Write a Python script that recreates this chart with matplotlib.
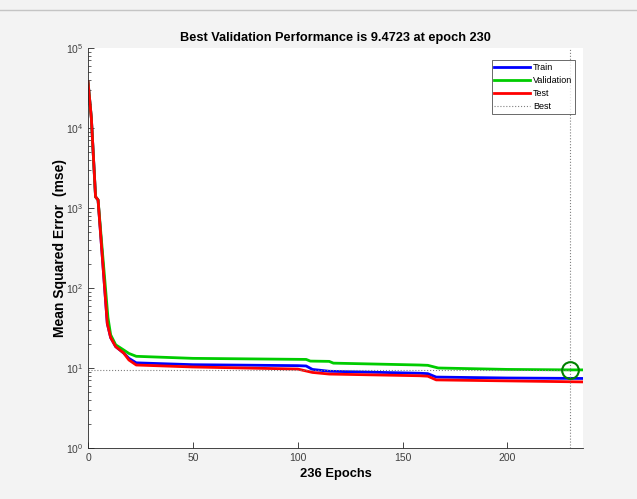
import matplotlib
matplotlib.use("Agg")
import matplotlib.pyplot as plt
from matplotlib.lines import Line2D

plt.rcParams['font.family'] = ['Liberation Sans', 'DejaVu Sans']

# performance per epoch (at the visible breakpoints)
train_ep = [0, 1.6, 3.6, 4.8, 9.2, 10.8, 13.2, 17, 19.5, 23, 50, 100, 104, 107, 115, 158, 162, 166, 200, 236]
train_mse = [38000, 13300, 1380, 1260, 36, 24, 18.5, 15.4, 13.2, 11.6, 11.0, 10.7, 10.6, 9.6, 9.1, 8.6, 8.5, 7.7, 7.5, 7.4]

val_ep = [0, 1.6, 3.6, 4.8, 9.5, 10.8, 13.2, 17, 19.5, 23, 50, 104, 106, 115, 117, 158, 162, 167, 200, 230, 236]
val_mse = [38000, 13300, 1380, 1260, 43, 26, 19.5, 16.8, 15.2, 14.0, 13.2, 12.8, 12.2, 12.1, 11.5, 10.9, 10.8, 10.0, 9.6, 9.4723, 9.47]

test_ep = [0, 1.6, 3.6, 4.8, 9.2, 10.8, 13.2, 17, 19.5, 23, 50, 100, 107, 115, 158, 162, 166, 200, 236]
test_mse = [38000, 13300, 1380, 1260, 36, 24, 18.5, 15.4, 12.6, 10.9, 10.3, 9.7, 8.8, 8.4, 8.0, 7.9, 7.1, 6.9, 6.7]

best_epoch = 230
best_perf = 9.4723
n_epochs = 236

fig = plt.figure(figsize=(6.37, 4.99), dpi=100)
fig.patch.set_facecolor('#f3f3f3')
fig.add_artist(Line2D([0.0, 1.0], [1 - 9.5 / 499, 1 - 9.5 / 499], color='#c4c4c4', lw=1))

ax = fig.add_axes([88 / 637, 1 - 448 / 499, 495 / 637, 400 / 499])
ax.set_facecolor('white')

ax.plot(train_ep, train_mse, color=(0, 0, 1), lw=2, label='Train')
ax.plot(val_ep, val_mse, color=(0, 0.8, 0), lw=2, label='Validation')
ax.plot(test_ep, test_mse, color=(1, 0, 0), lw=2, label='Test')
ax.plot([best_epoch, best_epoch], [1, 1e5], color='#808080', ls=':', lw=0.8, label='Best')
ax.plot([0, best_epoch], [best_perf, best_perf], color='#808080', ls=':', lw=0.8)
ax.plot([best_epoch], [best_perf], 'o', ms=12, mfc='none', mec=(0, 0.5, 0), mew=1.5)

ax.set_yscale('log')
ax.set_xlim(0, n_epochs)
ax.set_ylim(1, 1e5)
ax.set_xticks([0, 50, 100, 150, 200])

for s in ['top', 'right']:
    ax.spines[s].set_visible(False)
for s in ['left', 'bottom']:
    ax.spines[s].set_color('#262626')
    ax.spines[s].set_linewidth(0.6)
ax.tick_params(which='both', direction='in', colors='#262626', labelsize=7.5)
ax.tick_params(which='major', length=4, width=0.6)
ax.tick_params(which='minor', length=2, width=0.5)
for lab in ax.get_xticklabels() + ax.get_yticklabels():
    lab.set_color('#404040')

ax.set_title('Best Validation Performance is 9.4723 at epoch 230',
             fontsize=9.2, fontweight='bold', pad=5)
ax.set_xlabel('236 Epochs', fontsize=9.3, fontweight='bold', labelpad=4)
ax.set_ylabel('Mean Squared Error  (mse)', fontsize=10, fontweight='bold', labelpad=-1)

leg = ax.legend(loc='upper right', fontsize=6.5, frameon=True, fancybox=False,
                edgecolor='#262626', handlelength=4.0, borderpad=0.3,
                labelspacing=0.45, handletextpad=0.3, borderaxespad=0,
                bbox_to_anchor=(0.984, 0.97))
leg.get_frame().set_linewidth(0.6)

fig.savefig('out.png', dpi=100, facecolor=fig.get_facecolor())
